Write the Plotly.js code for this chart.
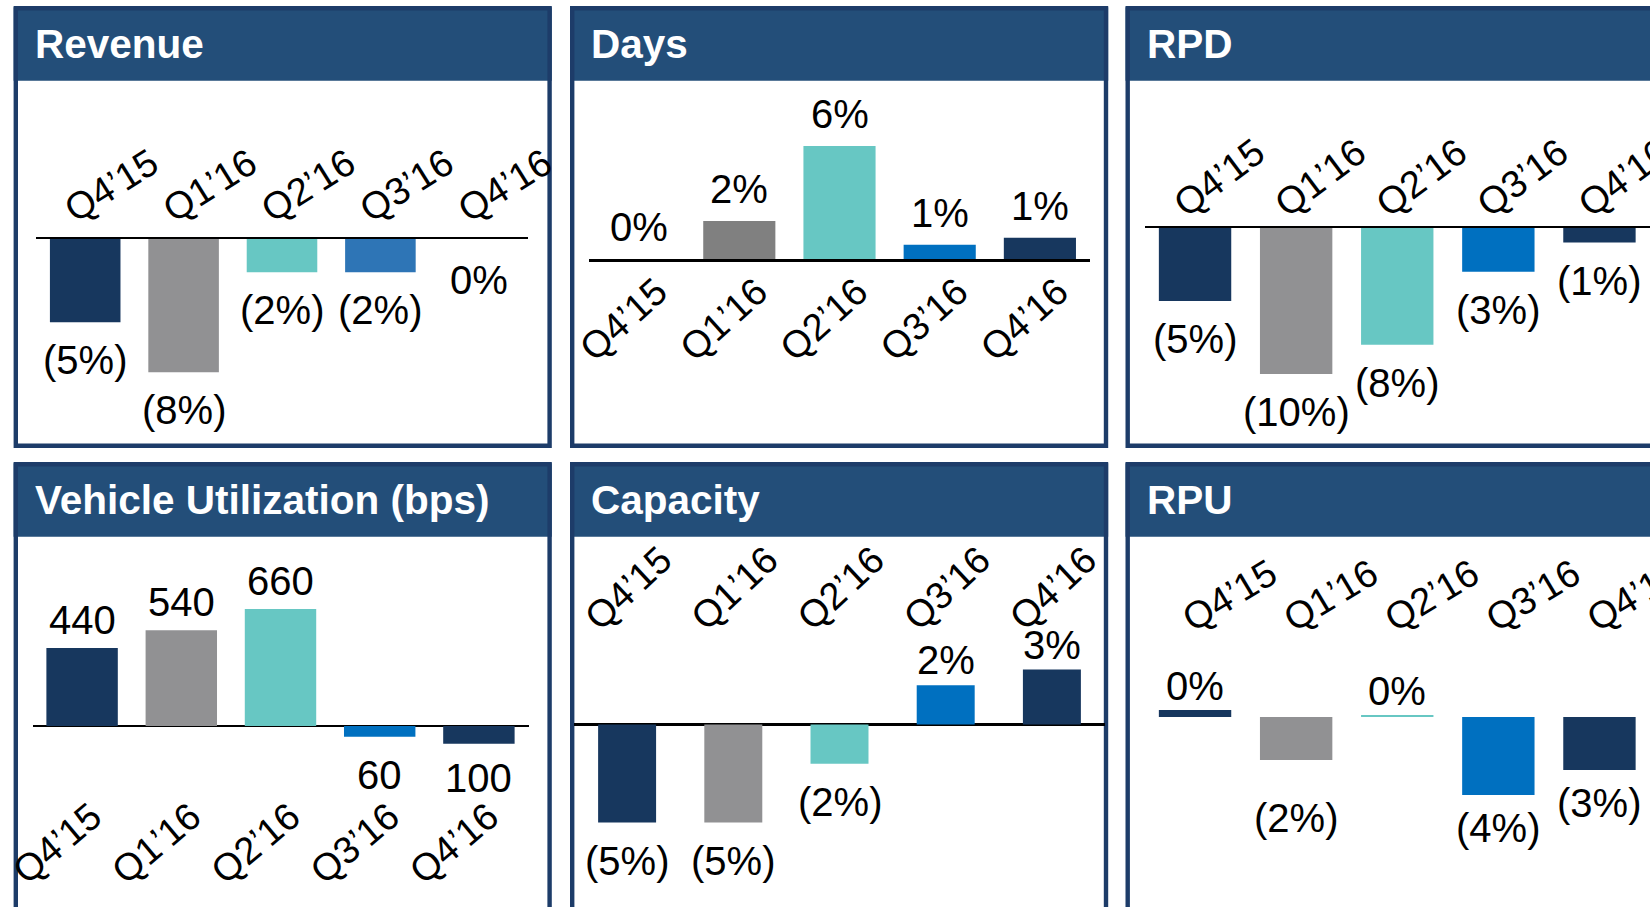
<!DOCTYPE html>
<html><head><meta charset="utf-8">
<script src="https://cdn.plot.ly/plotly-3.0.1.min.js"></script>
<style>html,body{margin:0;padding:0;background:#fff;overflow:hidden}#chart{width:1650px;height:907px}</style>
</head><body><div id="chart"></div>
<script>
// ---------------- data ----------------
const quarters = ["Q4’15", "Q1’16", "Q2’16", "Q3’16", "Q4’16"];

const revenueValues = [-5, -8, -2, -2, 0];
const revenueLabels = ["(5%)", "(8%)", "(2%)", "(2%)", "0%"];

const daysValues = [0, 2.0, 5.95, 0.75, 1.12];
const daysLabels = ["0%", "2%", "6%", "1%", "1%"];

const rpdValues = [-5, -10, -8, -3, -1];
const rpdLabels = ["(5%)", "(10%)", "(8%)", "(3%)", "(1%)"];

const utilizationValues = [440, 540, 660, -60, -100];
const utilizationLabels = ["440", "540", "660", "60", "100"];

const capacityValues = [-5, -5, -2, 2, 2.8];
const capacityLabels = ["(5%)", "(5%)", "(2%)", "2%", "3%"];

const rpuValues = [0.36, -2.2, 0.1, -4.0, -2.72];
const rpuLabels = ["0%", "(2%)", "0%", "(4%)", "(3%)"];

// ---------------- styling / layout ----------------
const W = 1650, H = 907;
const FONT = '"Liberation Sans", Arial, Helvetica, sans-serif';
const NAVY = '#17375e', GRAY = '#919193', TEAL = '#67c7c3', BLUE = '#0070c0';
const HEADER = '#234e79', FRAME = '#1d3c69';
const TICK_SIZE = 38, LABEL_SIZE = 40, TITLE_SIZE = 40.5;

const panels = [
  { title: 'Revenue', values: revenueValues, labels: revenueLabels,
    colors: [NAVY, GRAY, TEAL, '#2e75b6', NAVY],
    box: [13.6, 7.3, 551.8, 448], plot: [36, 239, 528, 440], zero: 239, ppu: 16.67,
    side: 'top', angle: -32, bargap: 0.283, zeroSide: 'below', axisLine: true, zeroline: false,
    standoff: -5, shift: -20, gapUp: 8, gapDown: 14, nudge: [0, 0, 0, 0, -3] },
  { title: 'Days', values: daysValues, labels: daysLabels,
    colors: [NAVY, '#808080', TEAL, BLUE, NAVY],
    box: [570, 7.3, 1108.2, 448], plot: [589, 90, 1090, 259], zero: 259, ppu: 19,
    side: 'bottom', angle: -42, bargap: 0.28, zeroSide: 'above', axisLine: true, zeroline: false,
    standoff: -7, shift: 18, gapUp: 8, gapDown: 14, nudge: [0, 0, 0, 0, 0] },
  { title: 'RPD', values: rpdValues, labels: rpdLabels,
    colors: [NAVY, GRAY, TEAL, BLUE, NAVY],
    box: [1125.5, 7.3, 1700, 448], plot: [1144.5, 228, 1650, 440], zero: 228, ppu: 14.6,
    side: 'top', angle: -37, bargap: 0.284, zeroSide: 'below', axisLine: true, zeroline: false,
    standoff: -12, shift: -20, gapUp: 8, gapDown: 14, nudge: [0, 0, 0, 0, 0] },
  { title: 'Vehicle Utilization (bps)', values: utilizationValues, labels: utilizationLabels,
    colors: [NAVY, GRAY, TEAL, BLUE, NAVY],
    box: [13.6, 463.3, 551.8, 930], plot: [32.5, 545, 528.5, 795], zero: 726, ppu: 0.1773,
    side: 'bottom', angle: -40, bargap: 0.28, zeroSide: 'above', axisLine: false, zeroline: true,
    standoff: -9, shift: 10, gapUp: 4, gapDown: 10, nudge: [0, 0, 0, -4, 0] },
  { title: 'Capacity', values: capacityValues, labels: capacityLabels,
    colors: [NAVY, GRAY, TEAL, BLUE, NAVY],
    box: [570, 463.3, 1108.2, 930], plot: [574, 640, 1105, 900], zero: 724.5, ppu: 19.6,
    side: 'top', angle: -43, bargap: 0.454, zeroSide: 'above', axisLine: false, zeroline: true,
    standoff: -6, shift: -40, gapUp: 1, gapDown: 14, nudge: [0, 0, 0, 0, 0] },
  { title: 'RPU', values: rpuValues, labels: rpuLabels,
    colors: [NAVY, GRAY, TEAL, BLUE, NAVY],
    box: [1125.5, 463.3, 1700, 930], plot: [1144.5, 640, 1650, 900], zero: 717, ppu: 19.5,
    side: 'top', angle: -31, bargap: 0.284, zeroSide: 'above', axisLine: false, zeroline: false,
    standoff: -4, shift: -12, gapUp: 0, gapDown: 9, nudge: [0, -25, 0, 0, 0] }
];

const px = x => x / W;
const py = y => 1 - y / H;

const data = [];
const layout = {
  width: W, height: H,
  margin: { l: 0, r: 0, t: 0, b: 0 },
  paper_bgcolor: '#ffffff', plot_bgcolor: 'rgba(0,0,0,0)',
  showlegend: false,
  font: { family: FONT, color: '#000' },
  shapes: [], annotations: []
};

panels.forEach((p, i) => {
  const n = i + 1;
  const xa = n === 1 ? 'x' : 'x' + n;
  const ya = n === 1 ? 'y' : 'y' + n;
  const xKey = n === 1 ? 'xaxis' : 'xaxis' + n;
  const yKey = n === 1 ? 'yaxis' : 'yaxis' + n;
  const [bx0, by0, bx1, by1] = p.box;
  const [x0, yTop, x1, yBot] = p.plot;

  // header band + frame
  layout.shapes.push({ type: 'rect', xref: 'paper', yref: 'paper', layer: 'below',
    x0: px(bx0), x1: px(bx1), y0: py(by0), y1: py(by0 + 73.4),
    fillcolor: HEADER, line: { width: 0 } });
  layout.shapes.push({ type: 'rect', xref: 'paper', yref: 'paper', layer: 'below',
    x0: px(bx0 + 2.2), x1: px(bx1 - 2.2), y0: py(by0 + 1), y1: py(by1 - 2.2),
    fillcolor: 'rgba(0,0,0,0)', line: { color: FRAME, width: 4.4 } });

  layout.annotations.push({ xref: 'paper', yref: 'paper', x: px(bx0 + 19), y: py(by0 + 37),
    xanchor: 'left', yanchor: 'middle', showarrow: false, text: '<b>' + p.title + '</b>',
    font: { family: FONT, size: TITLE_SIZE, color: '#ffffff' } });

  data.push({ type: 'bar', x: quarters, y: p.values, xaxis: xa, yaxis: ya,
    width: quarters.map(() => 1 - p.bargap),
    marker: { color: p.colors, line: { width: 0 } }, hoverinfo: 'skip', cliponaxis: false });

  layout[xKey] = { domain: [px(x0), Math.min(1, px(x1))], anchor: ya, type: 'category',
    side: p.side, tickangle: p.angle, ticks: '', showgrid: false, zeroline: false,
    showline: p.axisLine, linecolor: '#000', linewidth: 2.5,
    tickfont: { family: FONT, size: TICK_SIZE, color: '#000' },
    ticklabelstandoff: p.standoff, ticklabelshift: p.shift, fixedrange: true };
  layout[yKey] = { domain: [py(yBot), py(yTop)], anchor: xa,
    range: [-(yBot - p.zero) / p.ppu, (p.zero - yTop) / p.ppu],
    showticklabels: false, ticks: '', showgrid: false, showline: false,
    zeroline: p.zeroline, zerolinecolor: '#000', zerolinewidth: 2.5, fixedrange: true };

  p.values.forEach((v, k) => {
    const up = v > 0 || (v === 0 && p.zeroSide === 'above');
    layout.annotations.push({ xref: xa, yref: ya, x: quarters[k], y: v,
      xanchor: 'center', yanchor: up ? 'bottom' : 'top',
      yshift: (up ? p.gapUp : -p.gapDown) + p.nudge[k],
      showarrow: false, text: p.labels[k], font: { family: FONT, size: LABEL_SIZE, color: '#000' } });
  });
});

Plotly.newPlot('chart', data, layout, { staticPlot: true });
</script>
</body></html>
